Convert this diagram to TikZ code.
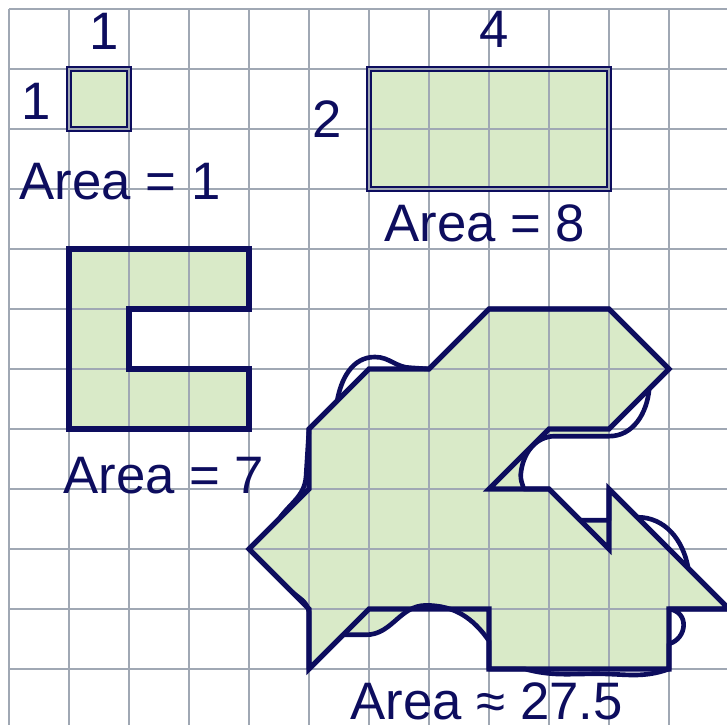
\documentclass[tikz,border=0pt]{standalone}
\usepackage{fontspec}
\setmainfont{Liberation Sans}
\definecolor{navy}{RGB}{13,13,94}
\definecolor{leaf}{RGB}{217,234,200}
\definecolor{gridgray}{RGB}{160,168,180}

\begin{document}
\begin{tikzpicture}[
  gridline/.style={draw=gridgray, line width=0.95pt},
  region/.style={fill=leaf},
  rim/.style={draw=navy, line width=2.4pt},
  blob/.style={draw=navy, line width=2.2pt, line join=round},
  lbl/.style={text=navy, inner sep=0pt, anchor=base, font=\fontsize{25}{30}\selectfont}
]
\useasboundingbox (-0.15,-0.9333) rectangle (11.9667,11.15);

% fills
\fill[region] (1,9) rectangle (2,10);
\fill[region] (6,8) rectangle (10,10);
\fill[region] (1,7) -- (4,7) -- (4,6) -- (2,6) -- (2,5) -- (4,5) -- (4,4) -- (1,4) -- cycle;
\fill[region] (8,6) -- (10,6) -- (11,5) -- (10,4) -- (9,4) -- (8,3) -- (9,3) -- (10,2)
  -- (10,3) -- (12,1) -- (11,1) -- (11,0) -- (8,0) -- (8,1) -- (6,1) -- (5,0)
  -- (5,1) -- (4,2) -- (5,3) -- (5,4) -- (6,5) -- (7,5) -- cycle;
% gaps between polygon and curve
\fill[region] (10,4) -- (9,4) -- (8,3) -- (8.58,3) to[out=105,in=-95] (8.53,3.25)
  to[out=85,in=180] (9.1,3.88) -- (10,3.88) -- cycle;
\fill[region] (9.52,2.48) -- (10,2.48) -- (10,2) -- cycle;
\fill[region] (6,1) -- (5.57,0.57) -- (5.95,0.57) to[out=0,in=180] (6.95,1.06)
  to[out=0,in=125] (8,0.47) -- (8,1) -- cycle;

% grid
\draw[gridline] (0,-1) grid (12,11);

% rectangles, the grid showing through their rims
\draw[rim] (1,9) rectangle (2,10);
\draw[rim] (6,8) rectangle (10,10);
\draw[gridline, line width=0.5pt] (1,9) rectangle (2,10);
\draw[gridline, line width=0.5pt] (6,8) rectangle (10,10);

% outlines
\draw[rim] (1,7) -- (4,7) -- (4,6) -- (2,6) -- (2,5) -- (4,5) -- (4,4) -- (1,4) -- cycle;
\draw[rim] (8,6) -- (10,6) -- (11,5) -- (10,4) -- (9,4) -- (8,3) -- (9,3) -- (10,2)
  -- (10,3) -- (12,1) -- (11,1) -- (11,0) -- (8,0) -- (8,1) -- (6,1) -- (5,0)
  -- (5,1) -- (4,2) -- (5,3) -- (5,4) -- (6,5) -- (7,5) -- cycle;

% the curved shape
\draw[blob] (7,5) -- (8,6) -- (10,6) -- (11,5) -- (10.67,4.67)
  to[out=-95,in=0] (10,3.88) -- (9.1,3.88)
  to[out=180,in=85] (8.53,3.25) to[out=-95,in=105] (8.58,3)
  -- (9,3) -- (9.52,2.48) -- (10,2.48) -- (10,3) -- (10.47,2.53)
  to[out=0,in=100] (11.32,1.68) -- (12,1) -- (11,1)
  .. controls (11.35,0.95) and (11.3,0.5) .. (11,0.42) -- (11,0)
  to[out=-160,in=0] (9.8,-0.08) to[out=180,in=-15] (8.6,0) -- (8,0) -- (8,0.47)
  to[out=125,in=0] (6.95,1.06) to[out=180,in=0] (5.95,0.57) -- (5.57,0.57)
  -- (5,0) -- (5,0.95) to[out=100,in=-45] (4.68,1.32) -- (4,2) -- (4.5,2.5)
  to[out=55,in=-95] (4.95,3.2) -- (5,4) -- (5.47,4.47)
  to[out=80,in=180] (6.1,5.2) to[out=0,in=180] (6.7,5.02) -- cycle;

% labels
\node[lbl] (top1) at (1.58,10.333) {1};
\node[lbl] (side1) at (0.45,9.15) {1};
\node[lbl] (area1) at (1.85,7.833) {Area = 1};
\node[lbl] (top4) at (8.08,10.35) {4};
\node[lbl] (side2) at (5.3,8.85) {2};
\node[lbl] (area8) at (7.93,7.12) {Area = 8};
\node[lbl] (area7) at (2.58,2.93) {Area = 7};
\node[lbl] (area27) at (7.96,-0.84) {Area ≈ 27.5};

\end{tikzpicture}
\end{document}
